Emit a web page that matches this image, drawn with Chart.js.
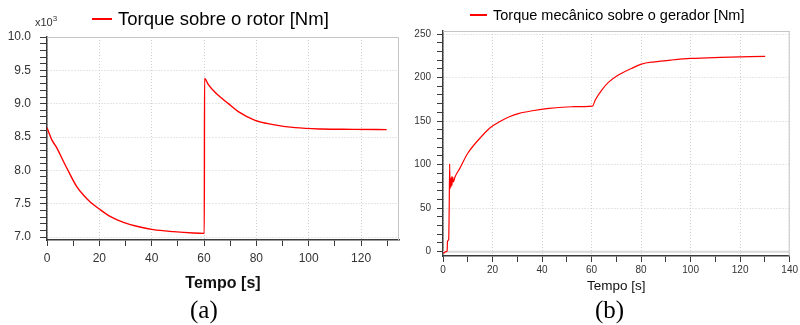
<!DOCTYPE html>
<html>
<head>
<meta charset="utf-8">
<script src="https://cdn.jsdelivr.net/npm/chart.js@4.4.1/dist/chart.umd.min.js"></script>
<style>
  html, body { margin: 0; padding: 0; background: #fff; }
  body { width: 800px; height: 325px; position: relative; overflow: hidden; font-family: "Liberation Sans", Arial, sans-serif; }
  .cv { position: absolute; top: 0; }
  .legend { position: absolute; white-space: nowrap; color: #000; display: flex; align-items: center; }
  .legend .ln { display: inline-block; height: 1.5px; background: #ff0000; margin-right: 6px; }
  .cap { position: absolute; font-family: "Liberation Serif", "Times New Roman", serif; font-size: 25px; color: #000; }
  .mult { position: absolute; font-size: 11px; color: #333; }
</style>
</head>
<body>
<div class="cv" style="left:0;width:405px;height:325px"><canvas id="chartA"></canvas></div>
<div class="cv" style="left:400px;width:400px;height:325px"><canvas id="chartB"></canvas></div>

<div class="legend" style="left:92px;top:8px;font-size:18.5px;"><span class="ln" style="width:20px"></span><span>Torque sobre o rotor [Nm]</span></div>
<div class="legend" style="left:470px;top:7px;font-size:14.5px;"><span class="ln" style="width:17px;height:1.2px"></span><span>Torque mecânico sobre o gerador [Nm]</span></div>
<div class="mult" style="left:35px;top:14px;">x10<sup style="font-size:8px">3</sup></div>
<div class="cap" style="left:190px;top:296px;">(a)</div>
<div class="cap" style="left:595px;top:296px;">(b)</div>

<script>
// (a) rotor torque, values in units of 10^3 Nm
const timeA = [0, 1.8, 3.7, 6.2, 8.8, 11.3, 13.9, 16.4, 20, 24.1, 29.2, 35.5, 40.6, 48.3, 56, 60.1,
  60.2, 61.6, 64.2, 66.8, 69.3, 73.1, 79.5, 85.9, 94.8, 105, 117, 129.8];
const torqueA = [8.64, 8.46, 8.34, 8.14, 7.94, 7.76, 7.63, 7.53, 7.42, 7.31, 7.22, 7.15, 7.11, 7.08, 7.06, 7.055,
  9.38, 9.29, 9.17, 9.08, 9.00, 8.88, 8.75, 8.69, 8.64, 8.62, 8.615, 8.61];

// (b) mechanical torque on the generator, Nm
const timeB = [0, 0.5, 1, 1.5, 1.7, 1.8, 2.3, 2.5, 2.7, 2.8, 3.0, 3.2, 3.4, 3.6, 3.9, 4.2, 4.8, 6.8, 10, 14.8,
  18.8, 20, 22.8, 26.8, 30.8, 36.1, 42.8, 52.1, 60.4, 61.5, 64.1, 66.8, 70.8, 76.1, 80.1, 85.5, 92.1, 100.1, 112.1, 130.1];
const torqueB = [-1, -1.5, 0, 0, 2, 12, 14, 50, 101, 72, 84, 74, 86, 76, 86, 80, 85.4, 95.7, 113, 130,
  141.7, 144.3, 149.3, 155, 158.9, 161.9, 164.6, 166.5, 167.3, 174.2, 185.6, 194.5, 202.9, 210.5, 215.5, 218.1, 220.1, 222, 223.2, 224.3];

const ticksXA = [0, 10, 20, 30, 40, 50, 60, 70, 80, 90, 100, 110, 120, 130];
const ticksYA = [7.0, 7.1, 7.2, 7.3, 7.4, 7.5, 7.6, 7.7, 7.8, 7.9, 8.0, 8.1, 8.2, 8.3, 8.4, 8.5, 8.6, 8.7, 8.8, 8.9,
  9.0, 9.1, 9.2, 9.3, 9.4, 9.5, 9.6, 9.7, 9.8, 9.9, 10.0];
const ticksXB = [0, 10, 20, 30, 40, 50, 60, 70, 80, 90, 100, 110, 120, 130, 140];
const ticksYB = [0, 10, 20, 30, 40, 50, 60, 70, 80, 90, 100, 110, 120, 130, 140, 150, 160, 170, 180, 190, 200, 210, 220, 230, 240, 250];

const pts = (xs, ys) => xs.map((x, i) => ({ x: x, y: ys[i] }));

// light frame on top and right side of the plot area, plus optional zero line
const framePlugin = {
  id: 'frame',
  beforeDatasetsDraw(chart, args, opts) {
    const { ctx, chartArea: a } = chart;
    ctx.save();
    ctx.strokeStyle = '#c4c4c4';
    ctx.lineWidth = 1;
    ctx.beginPath();
    ctx.moveTo(a.left, a.top + 0.5);
    ctx.lineTo(a.right - 0.5, a.top + 0.5);
    ctx.lineTo(a.right - 0.5, a.bottom);
    ctx.stroke();
    if (opts.zeroLine) {
      const y0 = chart.scales.y.getPixelForValue(0);
      ctx.strokeStyle = '#d8d8d8';
      ctx.lineWidth = 2;
      ctx.beginPath();
      ctx.moveTo(a.left, y0);
      ctx.lineTo(a.right, y0);
      ctx.stroke();
    }
    ctx.restore();
  }
};

function axis(o) {
  return {
    type: 'linear',
    min: o.min, max: o.max,
    afterBuildTicks: s => { s.ticks = o.ticks.map(v => ({ value: v })); },
    afterFit: s => { if (o.width) s.width = o.width; if (o.height) s.height = o.height; },
    border: { display: true, color: '#3a3a3a', width: 1.5, dash: [1, 2] },
    grid: {
      color: c => (c.tick && o.isMajor(c.tick.value)) ? '#cfcfcf' : 'rgba(0,0,0,0)',
      tickColor: '#3a3a3a',
      tickLength: o.tickLength,
      tickWidth: 1,
      tickBorderDash: [],
      lineWidth: 1
    },
    ticks: {
      autoSkip: false,
      maxRotation: 0,
      color: '#333',
      padding: o.padding,
      font: { family: 'Liberation Sans', size: o.fontSize },
      callback: v => o.isMajor(v) ? o.fmt(v) : ''
    },
    title: o.title ? {
      display: true, text: o.title, color: '#111',
      font: { family: 'Liberation Sans', size: o.titleSize, weight: o.titleWeight },
      padding: { top: 0, bottom: 4 }
    } : { display: false }
  };
}

new Chart(document.getElementById('chartA'), {
  type: 'line',
  data: { datasets: [{ label: 'Torque sobre o rotor [Nm]', data: pts(timeA, torqueA),
    borderColor: '#ff0000', borderWidth: 1.4, pointRadius: 0, cubicInterpolationMode: 'monotone', fill: false }] },
  options: {
    responsive: true, maintainAspectRatio: false, animation: false,
    layout: { padding: { left: 0, top: 37, right: 6, bottom: 28 } },
    plugins: { legend: { display: false }, tooltip: { enabled: false }, frame: { zeroLine: false } },
    scales: {
      x: axis({ min: 0, max: 134.5, ticks: ticksXA, height: 57, tickLength: 6, padding: 5, fontSize: 12,
        isMajor: v => Math.round(v) % 20 === 0, fmt: v => String(Math.round(v)),
        title: 'Tempo [s]', titleSize: 16, titleWeight: 'bold' }),
      y: axis({ min: 6.955, max: 10.0, ticks: ticksYA, width: 47, tickLength: 7, padding: 9, fontSize: 12,
        isMajor: v => Math.round(v * 10) % 5 === 0, fmt: v => v.toFixed(1) })
    }
  },
  plugins: [framePlugin]
});

new Chart(document.getElementById('chartB'), {
  type: 'line',
  data: { datasets: [{ label: 'Torque mecânico sobre o gerador [Nm]', data: pts(timeB, torqueB),
    borderColor: '#ff0000', borderWidth: 1.2, pointRadius: 0, cubicInterpolationMode: 'monotone', fill: false }] },
  options: {
    responsive: true, maintainAspectRatio: false, animation: false,
    layout: { padding: { left: 0, top: 31, right: 7, bottom: 27 } },
    plugins: { legend: { display: false }, tooltip: { enabled: false }, frame: { zeroLine: true } },
    scales: {
      x: axis({ min: 0, max: 140, ticks: ticksXB, height: 42, tickLength: 6, padding: 2, fontSize: 10,
        isMajor: v => Math.round(v) % 20 === 0, fmt: v => String(Math.round(v)),
        title: 'Tempo [s]', titleSize: 13.5, titleWeight: 'normal' }),
      y: axis({ min: -5, max: 253.5, ticks: ticksYB, width: 43, tickLength: 6, padding: 6, fontSize: 10,
        isMajor: v => Math.round(v) % 50 === 0, fmt: v => String(Math.round(v)) })
    }
  },
  plugins: [framePlugin]
});
</script>
</body>
</html>
